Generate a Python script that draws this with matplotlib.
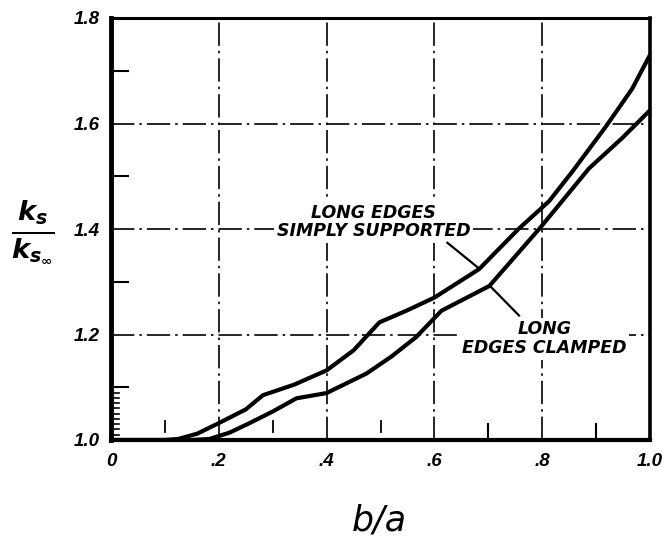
import matplotlib
matplotlib.use("Agg")
import matplotlib.pyplot as plt
import numpy as np

plt.rcParams["mathtext.fontset"] = "custom"
plt.rcParams["mathtext.it"] = "DejaVu Sans:italic:bold"
plt.rcParams["mathtext.rm"] = "DejaVu Sans:bold"

# ---- data ----
ba_simply = [0.0, 0.10, 0.125, 0.16, 0.20, 0.25, 0.282, 0.34, 0.40, 0.45, 0.498,
             0.55, 0.60, 0.683, 0.756, 0.813, 0.856, 0.918, 0.967, 1.0]
k_simply = [1.0, 1.0, 1.002, 1.012, 1.032, 1.058, 1.085, 1.105, 1.132, 1.170, 1.223,
            1.246, 1.270, 1.324, 1.400, 1.453, 1.509, 1.594, 1.666, 1.730]

ba_clamped = [0.0, 0.15, 0.183, 0.22, 0.257, 0.30, 0.344, 0.40, 0.474, 0.52, 0.566,
              0.613, 0.702, 0.796, 0.887, 0.948, 1.0]
k_clamped = [1.0, 1.0, 1.002, 1.014, 1.032, 1.054, 1.079, 1.089, 1.126, 1.158, 1.195,
             1.245, 1.292, 1.402, 1.515, 1.572, 1.625]

x_ticks = [0.0, 0.2, 0.4, 0.6, 0.8, 1.0]
x_ticklabels = ["0", ".2", ".4", ".6", ".8", "1.0"]
y_ticks = [1.0, 1.2, 1.4, 1.6, 1.8]
y_ticklabels = ["1.0", "1.2", "1.4", "1.6", "1.8"]
y_minor = [1.1, 1.3, 1.5, 1.7]
y_fine = [1.01, 1.02, 1.03, 1.04, 1.05, 1.06, 1.07, 1.08, 1.09]
x_minor = [0.7, 0.9]
x_small = [0.1, 0.3, 0.5]

label_simply = "LONG EDGES\nSIMPLY SUPPORTED"
label_clamped = "LONG\nEDGES CLAMPED"

# ---- figure ----
fig = plt.figure(figsize=(6.64, 5.52), dpi=100)
ax = fig.add_axes([111/664, 1-440/552, (650-111)/664, (440-18)/552])

ax.set_xlim(0, 1.0)
ax.set_ylim(1.0, 1.8)

grid_style = dict(color="black", linewidth=1.2, linestyle=(0, (14, 3, 1.5, 3)), zorder=1)
for xv in x_ticks[1:-1]:
    ax.axvline(xv, **grid_style)
for yv in y_ticks[1:-1]:
    ax.axhline(yv, **grid_style)

ax.plot(ba_simply, k_simply, color="black", linewidth=3.0, solid_capstyle="butt", zorder=3)
ax.plot(ba_clamped, k_clamped, color="black", linewidth=3.0, solid_capstyle="butt", zorder=3)

tick_font = dict(family="Liberation Sans", weight="bold", style="italic", size=13.5)
ax.set_xticks(x_ticks)
ax.set_xticklabels(x_ticklabels, fontdict=tick_font)
ax.set_yticks(y_ticks)
ax.set_yticklabels(y_ticklabels, fontdict=tick_font)
ax.tick_params(axis="both", which="major", length=0)
ax.tick_params(axis="y", which="major", pad=8)
ax.tick_params(axis="x", which="major", pad=9)

ax.set_yticks(y_minor, minor=True)
ax.set_xticks(x_minor, minor=True)
ax.tick_params(axis="y", which="minor", direction="in", length=13, width=1.5, left=True, right=False)
ax.tick_params(axis="x", which="minor", direction="in", length=12, width=1.5, bottom=True, top=False)

for yv in y_fine:
    ax.axhline(yv, xmin=0, xmax=0.014, color="black", linewidth=1.2, zorder=2)
for xv in x_small:
    ax.axvline(xv, ymin=0.02, ymax=0.045, color="black", linewidth=1.3, zorder=2)

ax.spines["left"].set_linewidth(3.5)
ax.spines["bottom"].set_linewidth(3.0)
ax.spines["top"].set_linewidth(2.2)
ax.spines["right"].set_linewidth(2.6)

ann_font = dict(family="DejaVu Sans", weight="bold", style="italic", size=12.5)
ax.text(0.487, 1.413, label_simply, ha="center", va="center", multialignment="center",
        linespacing=1.05, zorder=4,
        bbox=dict(boxstyle="square,pad=0.15", facecolor="white", edgecolor="none"),
        **ann_font)
ax.text(0.804, 1.192, label_clamped, ha="center", va="center", multialignment="center",
        linespacing=1.05, zorder=4,
        bbox=dict(boxstyle="square,pad=0.15", facecolor="white", edgecolor="none"),
        **ann_font)

ax.plot([0.624, 0.683], [1.374, 1.325], color="black", linewidth=1.6, zorder=4)
ax.plot([0.706, 0.757], [1.289, 1.236], color="black", linewidth=1.6, zorder=4)

fig.text(0.571, 1-520/552, "b/a", ha="center", va="center",
         family="DejaVu Sans", style="italic", size=25)
fig.text(0.05, 1-232/552, r"$\frac{k_s}{k_{s_\infty}}$", ha="center", va="center", size=28)

fig.savefig("out.png", dpi=100)
